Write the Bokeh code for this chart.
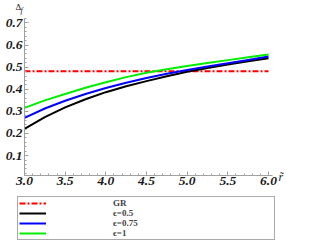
from bokeh.plotting import figure
from bokeh.models import Legend, LegendItem, Label, FixedTicker, Range1d
from bokeh.embed import file_html
from bokeh.resources import INLINE

r_vals = [3.0, 3.25, 3.5, 3.75, 4.0, 4.25, 4.5, 4.75, 5.0, 5.25, 5.5, 5.75, 6.0]
eps05 = [0.221, 0.274, 0.318, 0.355, 0.387, 0.414, 0.437, 0.459, 0.479, 0.496, 0.512, 0.527, 0.541]
eps075 = [0.271, 0.313, 0.348, 0.379, 0.406, 0.430, 0.451, 0.470, 0.487, 0.503, 0.518, 0.533, 0.548]
eps1 = [0.316, 0.350, 0.379, 0.407, 0.432, 0.455, 0.475, 0.491, 0.505, 0.519, 0.532, 0.545, 0.557]
gr_r = [3.0, 6.0]
gr_val = [0.482, 0.482]
x_ticks = [3.0, 3.5, 4.0, 4.5, 5.0, 5.5, 6.0]
y_ticks = [0.1, 0.2, 0.3, 0.4, 0.5, 0.6, 0.7]
labels = ["GR", "\u03f5=0.5", "\u03f5=0.75", "\u03f5=1"]

p = figure(width=316, height=241, output_backend="svg", toolbar_location=None,
           x_range=Range1d(2.7049, 6.590), y_range=Range1d(-0.2887, 0.8018),
           min_border_left=0, min_border_right=0, min_border_top=0, min_border_bottom=0)
p.outline_line_color = None
p.xgrid.visible = False
p.ygrid.visible = False

font = "Liberation Serif"
for ax in (p.xaxis[0], p.yaxis[0]):
    ax.axis_line_color = "#a0a0a0"
    ax.major_tick_line_color = "#a0a0a0"
    ax.minor_tick_line_color = "#a0a0a0"
    ax.major_tick_in = 4
    ax.major_tick_out = 0
    ax.minor_tick_in = 2
    ax.minor_tick_out = 0
    ax.major_label_text_font = font
    ax.major_label_text_font_style = "bold italic"
    ax.major_label_text_font_size = "13.5px"
    ax.major_label_text_color = "#1a1a1a"
    ax.major_label_standoff = 2

p.xaxis[0].fixed_location = 0.01
p.xaxis[0].bounds = (3.0, 6.05)
p.xaxis[0].ticker = FixedTicker(ticks=x_ticks, minor_ticks=[3.0 + 0.1 * i for i in range(31)])
p.xaxis[0].major_label_overrides = {t: f"{t:.1f}" for t in x_ticks}
p.yaxis[0].fixed_location = 3.0
p.yaxis[0].bounds = (0.01, 0.72)
p.yaxis[0].ticker = FixedTicker(ticks=y_ticks, minor_ticks=[0.02 * i for i in range(1, 37)])
p.yaxis[0].major_label_overrides = {t: f"{t:.1f}" for t in y_ticks}

r_gr = p.line(gr_r, gr_val, line_color="#ff0000", line_width=2, line_dash="6 2 2 2")
r_b = p.line(r_vals, eps05, line_color="black", line_width=2)
r_u = p.line(r_vals, eps075, line_color="#0000ff", line_width=2)
r_g = p.line(r_vals, eps1, line_color="#00ee00", line_width=2)

legend = Legend(items=[LegendItem(label=labels[0], renderers=[r_gr]),
                       LegendItem(label=labels[1], renderers=[r_b]),
                       LegendItem(label=labels[2], renderers=[r_u]),
                       LegendItem(label=labels[3], renderers=[r_g])],
                location=(17, 1), orientation="vertical",
                padding=1, spacing=0, margin=0,
                glyph_width=27, glyph_height=10, label_height=10,
                label_standoff=67, label_width=160,
                label_text_font=font, label_text_font_style="bold",
                label_text_font_size="9px",
                border_line_color="#555555", border_line_width=1,
                background_fill_alpha=1.0)
p.add_layout(legend, "center")

p.add_layout(Label(x=2.889, y=0.7928, text="\u0394",
                   text_font=font, text_font_size="9px", text_baseline="top",
                   text_align="left", text_color="#1a1a1a"))
p.add_layout(Label(x=2.951, y=0.779, text="f",
                   text_font=font, text_font_style="italic", text_font_size="8px",
                   text_baseline="top", text_align="left", text_color="#1a1a1a"))
p.add_layout(Label(x=6.123, y=0.005, text="r\u0303",
                   text_font=font, text_font_style="italic", text_font_size="12px",
                   text_baseline="middle", text_align="left", text_color="#1a1a1a"))

open("out.html", "w").write(file_html(p, INLINE))
